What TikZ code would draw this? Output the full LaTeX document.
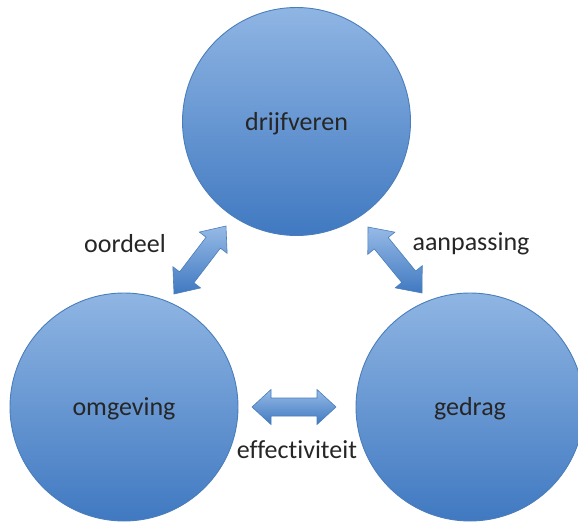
\documentclass[tikz,border=0pt]{standalone}
\usepackage{fontspec}
\setmainfont[Ligatures=NoCommon]{Carlito}
\newcommand\lowtext[1]{\raisebox{-2pt}[\height][\depth]{#1}}
\begin{document}
\begin{tikzpicture}[x=1pt,y=1pt,
  bubble/.style={circle, draw=circEdge, line width=0.9pt, minimum size=228pt, inner sep=0pt,
    top color=circTop, bottom color=circBot, font=\fontsize{26}{30}\selectfont, text=txt},
  lbl/.style={font=\fontsize{26}{30}\selectfont, text=txt, inner sep=0pt},
  blockarrow/.style={draw=circEdge, line width=0.6pt, top color=arrTop, bottom color=circBot}]
\definecolor{circTop}{RGB}{143,181,227}
\definecolor{circBot}{RGB}{64,121,193}
\definecolor{circEdge}{RGB}{74,126,187}
\definecolor{arrTop}{RGB}{150,186,230}
\definecolor{txt}{RGB}{38,38,38}
\useasboundingbox (0,0) rectangle (578,-522);
\node[bubble] (drijf) at (296.5,-121.5) {\lowtext{drijfveren}};
\node[bubble] (omg) at (124,-407) {\lowtext{omgeving}};
\node[bubble] (ged) at (470,-407) {\lowtext{gedrag}};
% arrow end points
\coordinate (l1) at (174,-294);
\coordinate (l2) at (226,-226);
\coordinate (r1) at (368,-227);
\coordinate (r2) at (422,-293);
\coordinate (h1) at (252,-407);
\coordinate (h2) at (336,-407);
\begin{scope}[shift={(l1)}, rotate=52.6]
  \path[blockarrow] (0,0) -- (21,17.5) -- (21,9) -- (64.6,9) -- (64.6,17.5) -- (85.6,0)
    -- (64.6,-17.5) -- (64.6,-9) -- (21,-9) -- (21,-17.5) -- cycle;
\end{scope}
\begin{scope}[shift={(r1)}, rotate=-50.7]
  \path[blockarrow] (0,0) -- (21,17.5) -- (21,9) -- (64.3,9) -- (64.3,17.5) -- (85.3,0)
    -- (64.3,-17.5) -- (64.3,-9) -- (21,-9) -- (21,-17.5) -- cycle;
\end{scope}
\begin{scope}[shift={(h1)}]
  \path[blockarrow] (0,0) -- (19,17.5) -- (19,9) -- (65,9) -- (65,17.5) -- (84,0)
    -- (65,-17.5) -- (65,-9) -- (19,-9) -- (19,-17.5) -- cycle;
\end{scope}
\node[lbl] (oord) at (125,-244) {oordeel};
\node[lbl] (aanp) at (471,-244) {aanpassing};
\node[lbl] (eff) at (297,-450) {effectiviteit};
\end{tikzpicture}
\end{document}
